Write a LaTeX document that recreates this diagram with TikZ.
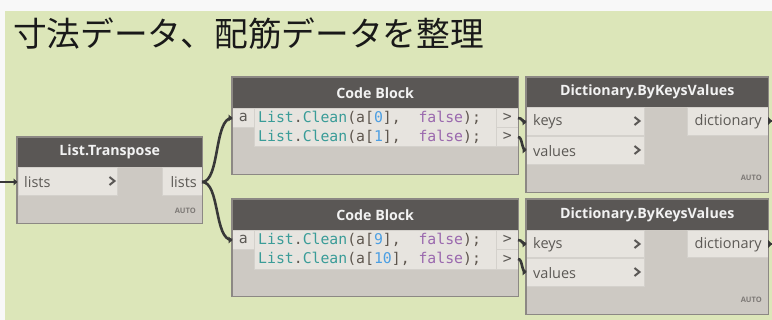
\documentclass[tikz,border=0pt]{standalone}
\usepackage{fontspec}
\setmainfont{Open Sans}
\setmonofont{DejaVu Sans Mono}
\newfontfamily\jpfont{Noto Sans CJK JP}
\usetikzlibrary{calc}

\definecolor{bgGreen}{HTML}{DCE6B9}
\definecolor{topWhite}{HTML}{F8F8F8}
\definecolor{hdr}{HTML}{5A5755}
\definecolor{nbody}{HTML}{CDC9C3}
\definecolor{port}{HTML}{E7E4DF}
\definecolor{edge}{HTML}{8C8884}
\definecolor{wirec}{HTML}{383838}
\definecolor{cTeal}{HTML}{3A9C98}
\definecolor{cGrey}{HTML}{5E564E}
\definecolor{cBlue}{HTML}{4C9FE3}
\definecolor{cPurple}{HTML}{9A68AE}
\definecolor{lbl}{HTML}{5C5955}

\newcommand{\rbox}[6]{\node[#6, minimum width={#4pt-#2pt}, minimum height={#5pt-#3pt}, anchor=north west, inner sep=0pt] (#1) at (#2,#3) {};}
\newcommand{\chev}[2]{\draw[chevron] (#1-3.5,#2-4) -- (#1+1.5,#2) -- (#1-3.5,#2+4);}
\newcommand{\cl}[2]{\texttt{\textcolor{cTeal}{List}\textcolor{cGrey}{.}\textcolor{cTeal}{Clean}\textcolor{cGrey}{(a[}\textcolor{cBlue}{#1}\textcolor{cGrey}{],}#2\textcolor{cPurple}{false}\textcolor{cGrey}{);}}}

\begin{document}
\begin{tikzpicture}[x=1pt,y=-1pt,
  nodebody/.style={fill=nbody},
  header/.style={fill=hdr},
  portbox/.style={fill=port, draw=nbody!85!white, line width=0.6pt},
  outline/.style={draw=edge, line width=1.2pt},
  htext/.style={text=white!95!black, font=\bfseries\fontsize{14.2}{17}\selectfont},
  ptext/.style={text=lbl, font=\fontsize{14.5}{17}\selectfont, inner sep=0pt},
  ctext/.style={font=\fontsize{14.8}{18}\selectfont, inner sep=0pt, anchor=west},
  atext/.style={text=edge!90!black, font=\bfseries\fontsize{7.5}{9}\selectfont, inner sep=0pt, anchor=east},
  chevron/.style={draw=hdr, line width=2pt},
  wire/.style={draw=wirec, line width=2.6pt},
  tip/.style={fill=wirec}
]
\useasboundingbox (0,0) rectangle (772,320);
% background
\fill[topWhite] (0,0) rectangle (772,320);
\fill[bgGreen] (5,11) rectangle (772,320);

% title
\node[anchor=base west, inner sep=0pt, font=\jpfont\fontsize{33.7}{38}\selectfont, text=black!90] (title) at (13,47) {寸法データ、配筋データを整理};

% ---------- List.Transpose ----------
\rbox{lt}{17}{137}{202}{223}{nodebody}
\rbox{lth}{17}{137}{202}{167}{header}
\rbox{ltin}{18}{167}{117}{195}{portbox}
\rbox{ltout}{162}{167}{202}{195}{portbox}
\draw[outline] (lt.north west) rectangle (lt.south east);
\node[htext] (ltt) at (lth.center) {List.Transpose};
\node[ptext, anchor=west] (ltinl) at (24,182) {lists};
\chev{113}{181}
\node[ptext, anchor=east] (ltoutl) at (197,182) {lists};
\node[atext] (lta) at (196,211) {AUTO};

% ---------- Code Block 1 ----------
\rbox{cba}{232}{77}{518}{174}{nodebody}
\rbox{cbah}{232}{77}{518}{108}{header}
\rbox{cbaa}{232}{108}{254}{127}{portbox}
\rbox{cbac}{254}{108}{496}{146}{portbox}
\rbox{cbao1}{496}{108}{518}{127}{portbox}
\rbox{cbao2}{496}{127}{518}{146}{portbox}
\draw[outline] (cba.north west) rectangle (cba.south east);
\node[htext] (cbat) at (cbah.center) {Code Block};
\node[ctext, anchor=center, text=lbl] (cbaal) at (cbaa.center) {\texttt{a}};
\node[ctext] (cbal1) at (258,118) {\cl{0}{\ \ }};
\node[ctext] (cbal2) at (258,137) {\cl{1}{\ \ }};
\node[ctext, anchor=center, text=lbl] (cbao1l) at (cbao1.center) {\texttt{>}};
\node[ctext, anchor=center, text=lbl] (cbao2l) at (cbao2.center) {\texttt{>}};

% ---------- Code Block 2 ----------
\rbox{cbb}{232}{199}{518}{296}{nodebody}
\rbox{cbbh}{232}{199}{518}{230}{header}
\rbox{cbba}{232}{230}{254}{249}{portbox}
\rbox{cbbc}{254}{230}{496}{269}{portbox}
\rbox{cbbo1}{496}{230}{518}{249}{portbox}
\rbox{cbbo2}{496}{249}{518}{269}{portbox}
\draw[outline] (cbb.north west) rectangle (cbb.south east);
\node[htext] (cbbt) at (cbbh.center) {Code Block};
\node[ctext, anchor=center, text=lbl] (cbbal) at (cbba.center) {\texttt{a}};
\node[ctext] (cbbl1) at (258,240) {\cl{9}{\ \ }};
\node[ctext] (cbbl2) at (258,259) {\cl{10}{\ }};
\node[ctext, anchor=center, text=lbl] (cbbo1l) at (cbbo1.center) {\texttt{>}};
\node[ctext, anchor=center, text=lbl] (cbbo2l) at (cbbo2.center) {\texttt{>}};

% ---------- Dictionary 1 ----------
\rbox{da}{526}{77}{768}{192}{nodebody}
\rbox{dah}{526}{77}{768}{107}{header}
\rbox{dak}{526}{107}{644}{135}{portbox}
\rbox{dav}{526}{136}{644}{164}{portbox}
\rbox{dao}{687}{107}{768}{135}{portbox}
\draw[outline] (da.north west) rectangle (da.south east);
\node[htext] (dat) at (dah.center) {Dictionary.ByKeysValues};
\node[ptext, anchor=west] (dakl) at (533,122) {keys};
\node[ptext, anchor=west] (davl) at (533,151) {values};
\chev{638}{121}
\chev{638}{150}
\node[ptext, anchor=east] (daol) at (762,122) {dictionary};
\node[atext] (daa) at (762,178) {AUTO};

% ---------- Dictionary 2 ----------
\rbox{db}{526}{199}{768}{314}{nodebody}
\rbox{dbh}{526}{199}{768}{230}{header}
\rbox{dbk}{526}{230}{644}{257}{portbox}
\rbox{dbv}{526}{258}{644}{286}{portbox}
\rbox{dbo}{687}{230}{768}{257}{portbox}
\draw[outline] (db.north west) rectangle (db.south east);
\node[htext] (dbt) at (dbh.center) {Dictionary.ByKeysValues};
\node[ptext, anchor=west] (dbkl) at (533,245) {keys};
\node[ptext, anchor=west] (dbvl) at (533,273) {values};
\chev{638}{244}
\chev{638}{272}
\node[ptext, anchor=east] (dbol) at (762,245) {dictionary};
\node[atext] (dba) at (762,300) {AUTO};

% ---------- port coordinates ----------
\coordinate (src) at (0,182);
\coordinate (ltI) at (17,182);
\coordinate (ltO) at (202,182);
\coordinate (cbaI) at (232,118);
\coordinate (cbbI) at (232,240);
\coordinate (cbaO1) at (518,118);
\coordinate (cbaO2) at (518,137);
\coordinate (cbbO1) at (518,240);
\coordinate (cbbO2) at (518,259);
\coordinate (daK) at (526,122);
\coordinate (daV) at (526,150);
\coordinate (dbK) at (526,244);
\coordinate (dbV) at (526,272);
\coordinate (daO) at (768,121);
\coordinate (dbO) at (768,244);
\coordinate (daE) at (772,121);
\coordinate (dbE) at (772,244);

% ---------- wires ----------
\draw[wire] (src) -- (ltI);
\draw[wire] (ltO) .. controls +(18,0) and +(-18,0) .. (cbaI);
\draw[wire] (ltO) .. controls +(18,0) and +(-18,0) .. (cbbI);
\draw[wire] (cbaO1) .. controls +(5,0) and +(-5,0) .. (daK);
\draw[wire] (cbaO2) .. controls +(5,0) and +(-5,0) .. (daV);
\draw[wire] (cbbO1) .. controls +(5,0) and +(-5,0) .. (dbK);
\draw[wire] (cbbO2) .. controls +(5,0) and +(-5,0) .. (dbV);
\draw[wire] (daO) -- (daE);
\draw[wire] (dbO) -- (dbE);
% small tips at port ends
\foreach \p in {ltI,cbaI,cbbI,daK,daV,dbK,dbV}{
  \fill[tip] ($(\p)+(0.5,0)$) -- ($(\p)+(-3.5,-3.5)$) -- ($(\p)+(-3.5,3.5)$) -- cycle;
}
\fill[tip] (768,117) -- (772,121) -- (768,125) -- cycle;
\fill[tip] (768,240) -- (772,244) -- (768,248) -- cycle;
\end{tikzpicture}
\end{document}
